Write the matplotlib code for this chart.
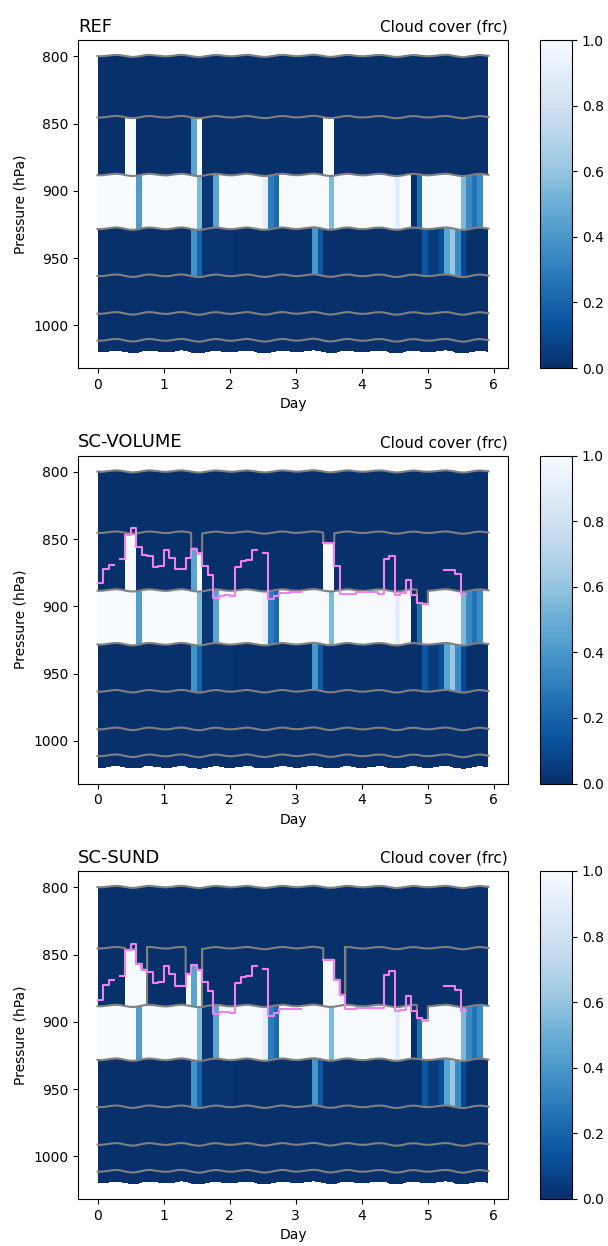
import numpy as np
import matplotlib
matplotlib.use('Agg')
import matplotlib.pyplot as plt

plt.rcParams['font.family'] = ['DejaVu Sans']

# ---------------- data ----------------
hours = np.arange(143)                      # time points (h)
base_edges = [799.5, 845.0, 888.0, 928.0, 963.0, 991.0, 1011.0, 1019.5]   # level edges (hPa)

# surface-pressure-like perturbation (hPa) at each hour
dps = [0.4, 0.5, 0.4, 0.1, -0.2, -0.5, -0.7, -0.8, -0.6, -0.2, 0.3, 0.7, 1.0, 1.1, 0.9, 0.5, 0.0, -0.4, -0.7, -0.8, -0.6, -0.3, 0.0, 0.3,
       0.5, 0.6, 0.4, 0.1, -0.3, -0.6, -0.8, -0.8, -0.5, -0.1, 0.4, 0.8, 1.1, 1.2, 1.0, 0.6, 0.1, -0.3, -0.6, -0.7, -0.6, -0.3, 0.1, 0.4,
       0.5, 0.5, 0.3, 0.0, -0.3, -0.6, -0.8, -0.7, -0.4, 0.0, 0.4, 0.8, 1.0, 1.1, 0.9, 0.5, 0.1, -0.3, -0.6, -0.8, -0.7, -0.4, 0.0, 0.3,
       0.4, 0.4, 0.2, -0.1, -0.4, -0.7, -0.9, -0.9, -0.6, -0.2, 0.3, 0.7, 1.0, 1.0, 0.8, 0.4, 0.0, -0.4, -0.7, -0.8, -0.6, -0.2, 0.1, 0.4,
       0.5, 0.5, 0.3, 0.0, -0.3, -0.6, -0.7, -0.7, -0.5, -0.1, 0.4, 0.8, 1.1, 1.1, 0.9, 0.5, 0.0, -0.4, -0.6, -0.7, -0.5, -0.2, 0.2, 0.4,
       0.5, 0.4, 0.2, -0.1, -0.4, -0.6, -0.8, -0.8, -0.5, -0.1, 0.4, 0.8, 1.1, 1.2, 1.0, 0.6, 0.1, -0.3, -0.6, -0.7, -0.5, -0.2, 0.1]

# default cloud cover per level (top to bottom)
default_cover = [0.0, 0.0, 1.0, 0.0, 0.0, 0.0, 0.0]

# (level, start hour, end hour, cloud cover)
ref_segments = [
    (1, 10, 14, 1.0), (1, 34, 36, 0.45), (1, 36, 38, 1.0), (1, 82, 86, 1.0),
    (2, 14, 16, 0.42), (2, 36, 38, 0.55), (2, 38, 42, 0.02), (2, 42, 44, 0.45),
    (2, 60, 62, 0.9), (2, 62, 64, 0.3), (2, 64, 66, 0.22), (2, 84, 86, 0.55),
    (2, 108, 110, 0.9), (2, 114, 116, 0.0), (2, 116, 118, 0.25), (2, 132, 134, 0.55),
    (2, 134, 136, 0.35), (2, 136, 138, 0.25), (2, 138, 140, 0.35),
    (3, 34, 36, 0.38), (3, 36, 38, 0.2), (3, 38, 50, 0.012), (3, 78, 80, 0.4), (3, 80, 82, 0.15),
    (3, 118, 120, 0.15), (3, 120, 124, 0.05), (3, 124, 126, 0.12), (3, 126, 128, 0.45),
    (3, 128, 130, 0.62), (3, 130, 132, 0.35), (3, 132, 134, 0.1),
]
sund_extra_segments = [(1, 10, 18, 1.0), (1, 32, 34, 1.0), (1, 34, 36, 0.45), (1, 36, 38, 1.0), (1, 82, 90, 1.0)]

nan = np.nan
# diagnosed cloud-top pressure (hPa), 2-hourly values
ctop_volume = [883, 872, 869, nan, 865, 847, 841.6, 856, 862, 862.7,
               870.7, 870, 857.8, 864, 872.6, 872.6, 864, 857, 860.7, 870,
               876.9, 893.5, 892, 891.7, 892.5, 870.7, 866, 865.7, 858.3, nan,
               860.3, 894.2, 892.5, 890, 890, 889.5, 889.5, nan, nan, nan,
               nan, 853, 853, 870, 890.5, 890.5, 890.5, 889.7, 889.7, 889.7,
               889.7, 890.5, 864.5, 862.5, 891.7, 890, 880.6, 891.7, 897.5, 898,
               nan, nan, nan, 873, 873, 875.6, 890.5, nan, nan, nan,
               nan]
ctop_sund = [883.6, 872.4, 869.2, nan, 866.2, 846.4, 841.9, 856.8, 861.2, 863.2,
             871.2, 870.7, 858.3, 864.2, 873.1, 873.1, 864.2, 858.0, 861.2, 870.7,
             877.4, 894.3, 893.0, 893.0, 893.5, 871.2, 866.7, 866.2, 858.7, nan,
             860.8, 896.0, 893.5, 890.5, 890.5, 890.5, 890.5, nan, nan, nan,
             nan, 853.8, 853.8, 868.7, 879.8, 890.5, 890.5, 889.8, 889.8, 889.8,
             889.8, 889.5, 865.0, 862.5, 892.3, 891.0, 881.0, 892.3, 897.2, 899.0,
             nan, nan, nan, 873.6, 873.6, 876.6, 892.3, nan, nan, nan,
             nan]

# (level, start hour, end hour): cloud layer top follows cloud top
episodes_volume = [(1, 34, 38), (1, 82, 86), (2, 116, 120)]
episodes_sund = [(1, 10, 18), (1, 32, 38), (1, 82, 90), (2, 116, 120)]
sund_walls = [18, 38, 90]

titles = ['REF', 'SC-VOLUME', 'SC-SUND']

# ---------------- build ----------------
T = hours / 24.0
ncell = len(hours) - 1
be = np.array(base_edges)
E = be[:, None] + np.array(dps)[None, :] * be[:, None] / 1000.0


def cover(segments):
    V = np.array(default_cover)[:, None] * np.ones((7, ncell))
    for lev, a, b, v in segments:
        V[lev, a:b] = v
    return V


def build(V, ctop, episodes):
    EL, ER = E[:, :-1], E[:, 1:]
    t2L, t2R = EL[1].copy(), ER[1].copy()
    t3L, t3R = EL[2].copy(), ER[2].copy()
    mag = None
    if ctop is not None:
        mag = np.repeat(np.array(ctop, float), 2)[:ncell]
        for lev, a, b in episodes:
            if lev == 1:
                t2L[a:b] = np.maximum(EL[1, a:b], mag[a:b])
                t2R[a:b] = np.maximum(ER[1, a:b], mag[a:b])
            else:
                t3L[a:b] = np.maximum(EL[2, a:b], mag[a:b])
                t3R[a:b] = np.maximum(ER[2, a:b], mag[a:b])
    YL = np.vstack([EL[0], EL[1], t2L, EL[2], t3L, EL[3], EL[4], EL[5], EL[6], EL[7]])
    YR = np.vstack([ER[0], ER[1], t2R, ER[2], t3R, ER[3], ER[4], ER[5], ER[6], ER[7]])
    Y = np.empty((10, 2 * ncell))
    Y[:, 0::2] = YL
    Y[:, 1::2] = YR
    X = np.empty(2 * ncell)
    X[0::2] = T[:-1]
    X[1::2] = T[1:]
    z = np.zeros(ncell)
    C9 = np.vstack([V[0], z, V[1], z, V[2], V[3], V[4], V[5], V[6]])
    C = np.empty((9, 2 * ncell - 1))
    C[:, 0::2] = C9
    C[:, 1::2] = C9[:, :-1]
    return X, Y, C, mag


panels = [
    (cover(ref_segments), None, []),
    (cover(ref_segments), ctop_volume, episodes_volume),
    (cover(ref_segments + sund_extra_segments), ctop_sund, episodes_sund),
]

fig = plt.figure(figsize=(6.08, 12.46), dpi=100)
W, H = 608.0, 1246.0
tops = [40.0, 455.5, 871.0]
for p, (V, ctop, eps) in enumerate(panels):
    top = tops[p]
    ax = fig.add_axes([78 / W, 1 - (top + 328) / H, 430 / W, 328 / H])
    cax = fig.add_axes([540 / W, 1 - (top + 328) / H, 32 / W, 328 / H])
    X, Y, C, mag = build(V, ctop, eps)
    X2 = np.tile(X, (Y.shape[0], 1))
    mesh = ax.pcolormesh(X2, Y, C, cmap='Blues_r', vmin=0, vmax=1, shading='flat')
    for k in [0, 2, 4, 5, 6, 7, 8]:
        ax.plot(X, Y[k], color='grey', lw=1.5, zorder=3)
    if p == 2:
        for h in sund_walls:
            ax.plot([T[h], T[h]], [E[1, h], E[2, h]], color='grey', lw=1.5, zorder=3)
    if mag is not None:
        ax.plot(X, np.repeat(mag, 2), color='violet', lw=1.5, zorder=4)
    ax.set_xlim(-0.296, 6.213)
    ax.set_ylim(1031.8, 787.8)
    ax.set_xticks(range(7))
    ax.set_yticks([800, 850, 900, 950, 1000])
    ax.tick_params(labelsize=10)
    ax.set_xlabel('Day', fontsize=10)
    ax.set_ylabel('Pressure (hPa)', fontsize=10)
    ax.set_title(titles[p], loc='left', fontsize=13)
    ax.set_title('Cloud cover (frc)', loc='right', fontsize=11)
    cb = fig.colorbar(mesh, cax=cax, ticks=[0, 0.2, 0.4, 0.6, 0.8, 1.0])
    cb.ax.tick_params(labelsize=10)

fig.savefig('out.png', dpi=100)
